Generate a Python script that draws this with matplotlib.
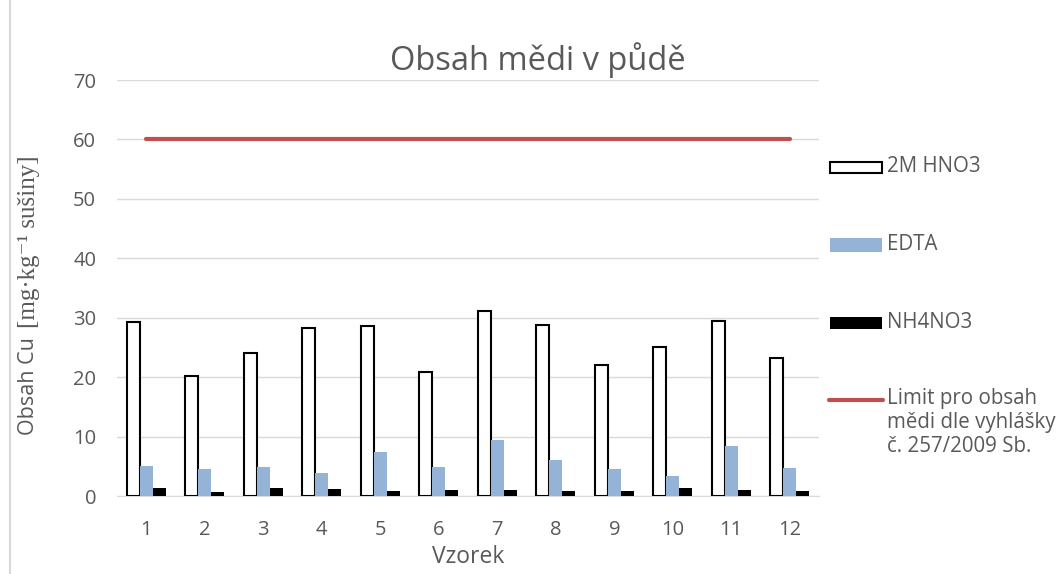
import numpy as np
import matplotlib.pyplot as plt
from matplotlib.patches import Rectangle
from matplotlib.lines import Line2D

vzorky = [1, 2, 3, 4, 5, 6, 7, 8, 9, 10, 11, 12]
hno3 = [29.3, 20.2, 24.1, 28.3, 28.6, 20.9, 31.2, 28.8, 22.1, 25.1, 29.5, 23.3]
edta = [5.05, 4.5, 4.8, 3.9, 7.4, 4.8, 9.4, 6.1, 4.55, 3.4, 8.4, 4.7]
nh4no3 = [1.3, 0.75, 1.4, 1.2, 0.9, 1.0, 1.0, 0.8, 0.9, 1.4, 1.0, 0.85]
limit = [60] * 12

W, H = 1063, 574
sans = ['Open Sans', 'DejaVu Sans']
serif = ['Liberation Serif', 'DejaVu Serif']
grey = '#595959'

fig = plt.figure(figsize=(W / 100, H / 100), dpi=100)

def px(x, y):
    return x / W, 1 - y / H

# chart frame
fig.add_artist(Rectangle(px(10, 600), 1.2, 1 - 13 / H + 0.2, transform=fig.transFigure,
                         fill=False, edgecolor='#D9D9D9', linewidth=1.5))

ax = fig.add_axes([117 / W, 1 - 496 / H, (819 - 117) / W, (496 - 80) / H])
x = np.array(vzorky)
bw = 0.22
ax.bar(x - bw, hno3, bw, color='white', edgecolor='black', linewidth=1.5, zorder=3)
ax.bar(x, edta, bw, color='#95B3D7', zorder=3)
ax.bar(x + bw, nh4no3, bw, color='black', zorder=3)
ax.plot(x, limit, color='#C0504D', linewidth=3, solid_capstyle='round', zorder=4)

ax.set_xlim(0.5, 12.5)
ax.set_ylim(0, 70)
ax.set_yticks(range(0, 71, 10))
ax.set_xticks(x)
ax.grid(axis='y', color='#D9D9D9', linewidth=1)
ax.set_axisbelow(True)
for s in ['top', 'right', 'left']:
    ax.spines[s].set_visible(False)
ax.spines['bottom'].set_color('#D9D9D9')
ax.tick_params(length=0, labelsize=14.5, colors=grey)
ax.tick_params(axis='y', pad=15)
ax.tick_params(axis='x', pad=17)
for t in ax.get_xticklabels() + ax.get_yticklabels():
    t.set_family(sans)

ax.set_xlabel('Vzorek', fontsize=16.5, color=grey, family=sans, labelpad=4)

fig.text(*px(538, 60), 'Obsah mědi v půdě', fontsize=23.5, color=grey, family=sans,
         ha='center', va='center')

# y label: sans part + serif unit
fig.text(*px(29, 435), 'Obsah Cu', rotation=90, fontsize=15.5, color=grey, family=sans,
         ha='center', va='bottom')
fig.text(*px(29, 328), '[mg·kg⁻¹ sušiny]', rotation=90, fontsize=18, color=grey,
         family=serif, ha='center', va='bottom')

# legend
fig.add_artist(Rectangle(px(830, 173), 52 / W, 11 / H, transform=fig.transFigure,
                         facecolor='white', edgecolor='black', linewidth=1.5))
fig.add_artist(Rectangle(px(830, 252), 52 / W, 14 / H, transform=fig.transFigure,
                         facecolor='#95B3D7', edgecolor='none'))
fig.add_artist(Rectangle(px(830, 329), 52 / W, 12 / H, transform=fig.transFigure,
                         facecolor='black', edgecolor='none'))
lx0, ly = px(829, 400)
lx1, _ = px(883, 400)
fig.add_artist(Line2D([lx0, lx1], [ly, ly], transform=fig.transFigure,
                      color='#C0504D', linewidth=3, solid_capstyle='round'))
labels = [('2M HNO3', 167), ('EDTA', 245), ('NH4NO3', 323),
          ('Limit pro obsah\nmědi dle vyhlášky\nč. 257/2009 Sb.', 388)]
for txt, yy in labels:
    fig.text(*px(887, yy), txt, fontsize=14.8, color=grey, family=sans,
             ha='left', va='top' if '\n' in txt else 'center', linespacing=1.2)

fig.savefig('out.png', dpi=100)
